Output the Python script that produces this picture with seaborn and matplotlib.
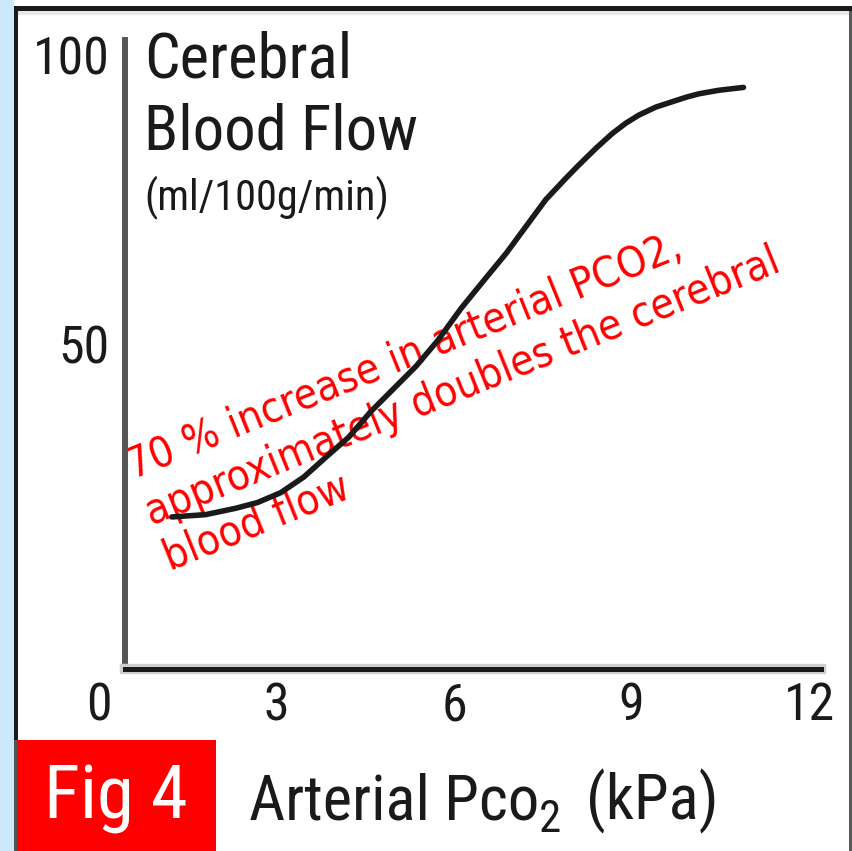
import matplotlib
matplotlib.use("Agg")
import matplotlib.pyplot as plt
import matplotlib.font_manager as fm
import matplotlib.patheffects as pe
from matplotlib.patches import Rectangle
import seaborn as sns
import pandas as pd

# ---- data ----
pco2_kpa = [1.23, 1.80, 2.31, 2.68, 3.07, 3.46, 3.83, 4.22, 4.59, 4.97, 5.36,
            5.73, 6.12, 6.51, 6.88, 7.55, 7.89, 8.11, 8.40, 8.67, 8.90, 9.12,
            9.41, 9.68, 9.92, 10.14, 10.47, 10.89]
cbf_ml = [20.1, 20.5, 21.6, 22.6, 24.3, 27.0, 30.4, 33.9, 38.3, 42.2, 46.2,
          50.7, 56.2, 61.1, 65.7, 75.0, 78.7, 81.0, 83.9, 86.4, 88.2, 89.6,
          91.0, 91.9, 92.7, 93.3, 93.9, 94.4]
x_ticks = [0, 3, 6, 9, 12]
x_tick_labels = ["0", "3", "6", "9", "12"]
y_ticks = [50, 100]
y_tick_labels = ["50", "100"]
title_lines = ["Cerebral", "Blood Flow"]
unit_text = "(ml/100g/min)"
xlabel_main = "Arterial Pco"
xlabel_sub = "2"
xlabel_unit = "(kPa)"
fig_tag = "Fig 4"
note_lines = ["70 % increase in arterial PCO2,",
              "approximately doubles the cerebral",
              "blood flow"]

df = pd.DataFrame({"pco2": pco2_kpa, "cbf": cbf_ml})

sns.set_theme(style="white")
plt.rcParams["font.family"] = ["Liberation Sans", "DejaVu Sans"]


def _is_regular(f):
    try:
        w = int(f.weight)
    except (TypeError, ValueError):
        w = 400 if str(f.weight).lower() in ("normal", "regular", "book") else 700
    return f.style == "normal" and 350 <= w <= 500


def pick_font(prefs):
    cond = ("condensed", "semi-condensed", "extra-condensed", "ultra-condensed")
    for fam, need_cond in prefs:
        for f in fm.fontManager.ttflist:
            if not _is_regular(f):
                continue
            if need_cond:
                if f.name.startswith(fam) and (f.stretch in cond or "Condensed" in f.name
                                               or "Narrow" in f.name):
                    return fm.FontProperties(fname=f.fname)
            elif f.name == fam:
                return fm.FontProperties(fname=f.fname)
    return fm.FontProperties(family="Liberation Sans")


narrow_fp = pick_font([("Liberation Sans Narrow", False), ("Roboto Condensed", False),
                       ("Liberation Sans Narrow", True), ("Roboto", True),
                       ("Noto Sans", True), ("Open Sans", True),
                       ("Liberation Sans", False)])
note_fp = pick_font([("DejaVu Sans", True), ("Liberation Sans", False)])

W, H = 852, 851
fig = plt.figure(figsize=(W / 100, H / 100), dpi=100)
fig.patch.set_facecolor("white")

# overlay axes in pixel coordinates for the frame decorations
ov = fig.add_axes([0, 0, 1, 1], zorder=0)
ov.set_xlim(0, W)
ov.set_ylim(H, 0)
ov.axis("off")
ov.add_patch(Rectangle((0, 0), 14, H, color="#cde8fb", lw=0))
ov.add_patch(Rectangle((14, 6), 4, 734, color="#1a1a1a", lw=0))
ov.add_patch(Rectangle((14, 740), 3, H - 740, color="#555555", lw=0))
ov.add_patch(Rectangle((14, 6), W - 14, 5, color="#1a1a1a", lw=0))
ov.add_patch(Rectangle((18, 11), 831, 4, color="#e8e8e8", lw=0))
ov.add_patch(Rectangle((849, 11), 3, H - 11, color="#5a5a5a", lw=0))
ov.add_patch(Rectangle((17, 740), 199, H - 740, color="#ff0000", lw=0))

# main axes
x_left_px, x_right_px = 99, 821
y_top_px, y_bot_px = 40, 669
ax = fig.add_axes([x_left_px / W, 1 - y_bot_px / H,
                   (x_right_px - x_left_px) / W, (y_bot_px - y_top_px) / H],
                  zorder=1)
ax.patch.set_alpha(0)
sns.lineplot(data=df, x="pco2", y="cbf", ax=ax, color="#1a1a1a", lw=4.0,
             sort=False, estimator=None)
ax.set_xlim(0, 12.2)
ax.set_ylim(-6.2, 102.6)
ax.set_xlabel("")
ax.set_ylabel("")

for s in ["top", "right"]:
    ax.spines[s].set_visible(False)
ax.spines["left"].set_position(("data", 0.44))
ax.spines["left"].set_color("#555555")
ax.spines["left"].set_linewidth(4.3)
ax.spines["bottom"].set_bounds(0.44, 12.2)
ax.spines["bottom"].set_color("#1a1a1a")
ax.spines["bottom"].set_linewidth(3.6)
ax.spines["bottom"].set_path_effects([pe.Stroke(linewidth=7.5, foreground="#cfcfcf"),
                                      pe.Normal()])

ax.set_xticks(x_ticks)
ax.set_xticklabels(x_tick_labels)
ax.set_yticks(y_ticks)
ax.set_yticklabels(y_tick_labels)
ax.tick_params(axis="both", length=0, labelcolor="#1a1a1a")
ax.tick_params(axis="x", pad=9)
ax.tick_params(axis="y", pad=11)

fig.canvas.draw()
renderer = fig.canvas.get_renderer()


def width_px(text, fp, size):
    t = ov.text(0, 0, text, fontproperties=fp, fontsize=size)
    w = t.get_window_extent(renderer=renderer).width
    t.remove()
    return w


def fit_size(text, fp, target):
    return 40 * target / width_px(text, fp, 40)


# tick labels
tick_size = fit_size("100", narrow_fp, 63) * 1.22
for lab in ax.get_xticklabels() + ax.get_yticklabels():
    lab.set_fontproperties(narrow_fp)
    lab.set_fontsize(tick_size)

# titles
title_size = fit_size(title_lines[1], narrow_fp, 274)
ov.text(144, 78, title_lines[0], fontproperties=narrow_fp, fontsize=title_size,
        color="#1a1a1a", va="baseline", ha="left")
ov.text(144, 150, title_lines[1], fontproperties=narrow_fp, fontsize=title_size,
        color="#1a1a1a", va="baseline", ha="left")
ov.text(144, 210, unit_text, fontproperties=narrow_fp,
        fontsize=fit_size(unit_text, narrow_fp, 245),
        color="#1a1a1a", va="baseline", ha="left")

# x label
lab_size = fit_size(xlabel_main, narrow_fp, 290)
ov.text(249, 819, xlabel_main, fontproperties=narrow_fp, fontsize=lab_size,
        color="#1a1a1a", va="baseline", ha="left")
ov.text(539, 832, xlabel_sub, fontproperties=narrow_fp, fontsize=lab_size * 0.72,
        color="#1a1a1a", va="baseline", ha="left")
ov.text(719, 819, xlabel_unit, fontproperties=narrow_fp, fontsize=lab_size,
        color="#1a1a1a", va="baseline", ha="right")

# fig tag
ov.text(44, 818, fig_tag, fontproperties=narrow_fp,
        fontsize=fit_size(fig_tag, narrow_fp, 144),
        color="white", va="baseline", ha="left")

# red annotation
note_size = fit_size(note_lines[1], note_fp, 678)
ov.text(121, 449, "\n".join(note_lines), fontproperties=note_fp, fontsize=note_size,
        color="#ff0000", rotation=22, rotation_mode="anchor", ha="left", va="top",
        linespacing=1.22, zorder=5)

fig.savefig("out.png", dpi=100)
